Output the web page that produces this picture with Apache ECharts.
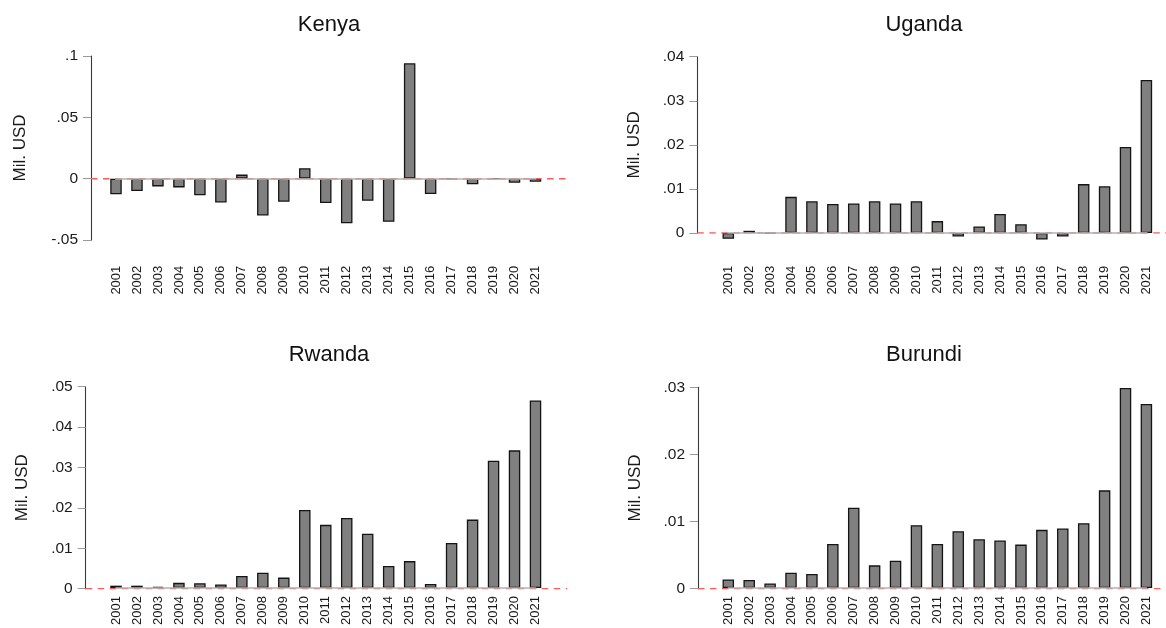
<!DOCTYPE html>
<html>
<head>
<meta charset="utf-8">
<script src="https://cdn.jsdelivr.net/npm/echarts@6/dist/echarts.min.js"></script>
<style>
  html, body { margin: 0; padding: 0; background: #ffffff; }
  #chart { width: 1166px; height: 628px; }
</style>
</head>
<body>
<div id="chart"></div>
<script>
// Net flows per country, million USD
const years = ['2001','2002','2003','2004','2005','2006','2007','2008','2009','2010',
               '2011','2012','2013','2014','2015','2016','2017','2018','2019','2020','2021'];

const kenya = [-0.0128, -0.0101, -0.0063, -0.0071, -0.0136, -0.0194, 0.0033, -0.0300, -0.0188, 0.0085,
               -0.0199, -0.0363, -0.0180, -0.0352, 0.0941, -0.0125, -0.0003, -0.0046, 0.0002, -0.0033, -0.0025];

const uganda = [-0.0013, 0.0005, -0.0001, 0.0082, 0.0072, 0.0066, 0.0067, 0.0072, 0.0067, 0.0072,
                0.0027, -0.0008, 0.0015, 0.0043, 0.0020, -0.0015, -0.0008, 0.0111, 0.0106, 0.0195, 0.0347];

const rwanda = [0.0006, 0.0006, 0.0003, 0.0013, 0.0012, 0.0009, 0.0030, 0.0038, 0.0026, 0.0194,
                0.0157, 0.0174, 0.0135, 0.0055, 0.0067, 0.0010, 0.0112, 0.0170, 0.0316, 0.0342, 0.0466];

const burundi = [0.0013, 0.0012, 0.0007, 0.0023, 0.0021, 0.0066, 0.0120, 0.0034, 0.0041, 0.0094,
                 0.0066, 0.0085, 0.0073, 0.0071, 0.0065, 0.0087, 0.0089, 0.0097, 0.0146, 0.0299, 0.0275];

// value-axis ranges per panel: [min, max, step]
const kenyaAxis   = [-0.05, 0.10, 0.05];
const ugandaAxis  = [0, 0.04, 0.01];
const rwandaAxis  = [0, 0.05, 0.01];
const burundiAxis = [0, 0.03, 0.01];

const yTitle = 'Mil. USD';

// panel layout (pixels)
const panels = [
  { title: 'Kenya',   values: kenya,   axis: kenyaAxis,   axisX: 91,    plotRight: 567,  barLeft: 116,   barRight: 535.5,  top: 56,    bottom: 240,   xOffset: 17.7, nameGap: 62, titleX: 329, titleTop: 14 },
  { title: 'Uganda',  values: uganda,  axis: ugandaAxis,  axisX: 697.3, plotRight: 1166, barLeft: 728.3, barRight: 1146.4, top: 56.7,  bottom: 233,   xOffset: 24.7, nameGap: 54, titleX: 924, titleTop: 14 },
  { title: 'Rwanda',  values: rwanda,  axis: rwandaAxis,  axisX: 85.7,  plotRight: 567,  barLeft: 116,   barRight: 535.5,  top: 386.7, bottom: 588.7, xOffset: 0,    nameGap: 55, titleX: 329, titleTop: 344 },
  { title: 'Burundi', values: burundi, axis: burundiAxis, axisX: 698,   plotRight: 1166, barLeft: 728.3, barRight: 1146.4, top: 387.3, bottom: 588.7, xOffset: 0,    nameGap: 54, titleX: 924, titleTop: 344 }
];

const FONT = '"Liberation Sans", Arial, Helvetica, sans-serif';

function tickText(v) {
  if (Math.abs(v) < 1e-9) return '0';
  const s = String(+v.toFixed(4));
  return s.replace(/^(-?)0\./, '$1.');
}

const grid = [], xAxis = [], yAxis = [], series = [], title = [];

panels.forEach((p, i) => {
  const [ymin, ymax, step] = p.axis;
  const wide = 2 * i, narrow = 2 * i + 1;

  // wide plot region: carries the y axis and the zero reference line
  grid.push({ left: p.axisX, top: p.top, width: p.plotRight - p.axisX, height: p.bottom - p.top });
  // narrow region: categories run from the first bar centre to the last
  grid.push({ left: p.barLeft, top: p.top, width: p.barRight - p.barLeft, height: p.bottom - p.top });

  xAxis.push({ type: 'value', gridIndex: wide, min: 0, max: 1, show: false });
  xAxis.push({
    type: 'category', gridIndex: narrow, data: years, boundaryGap: false,
    offset: p.xOffset, z: 10,
    axisLine: { show: true, lineStyle: { color: '#b3b3b3', width: 1.7 } },
    axisTick: { show: false },
    splitLine: { show: false },
    axisLabel: { interval: 0, rotate: 90, margin: 8, fontSize: 13, color: '#1a1a1a', fontFamily: FONT }
  });

  yAxis.push({
    type: 'value', gridIndex: wide, min: ymin, max: ymax, interval: step,
    name: yTitle, nameLocation: 'middle', nameGap: p.nameGap, nameRotate: 90,
    nameTextStyle: { fontSize: 17, color: '#1a1a1a', fontFamily: FONT },
    axisLine: { show: true, lineStyle: { color: '#3a3a3a', width: 1.1 } },
    axisTick: { show: true, length: 8, lineStyle: { color: '#9a9a9a', width: 1 } },
    splitLine: { show: false },
    axisLabel: { margin: 13, fontSize: 15.5, color: '#1a1a1a', fontFamily: FONT, formatter: tickText }
  });
  yAxis.push({ type: 'value', gridIndex: narrow, min: ymin, max: ymax, show: false });

  series.push({
    type: 'bar', xAxisIndex: narrow, yAxisIndex: narrow, data: p.values,
    barWidth: 11.5, clip: false, z: 2, silent: true,
    itemStyle: { color: '#808080', borderColor: '#141414', borderWidth: 1.3 }
  });
  series.push({
    type: 'line', xAxisIndex: wide, yAxisIndex: wide, data: [[0, 0], [1, 0]],
    symbol: 'none', z: 3, silent: true,
    lineStyle: { color: '#ff5a5a', width: 1.5, type: [6.5, 5.5] }
  });

  title.push({
    text: p.title, left: p.titleX, top: p.titleTop, textAlign: 'center', padding: 0,
    textStyle: { fontSize: 22, fontWeight: 'normal', color: '#111111', fontFamily: FONT }
  });
});

const chart = echarts.init(document.getElementById('chart'), null, { renderer: 'canvas' });
chart.setOption({
  animation: false,
  backgroundColor: '#ffffff',
  title, grid, xAxis, yAxis, series
});
</script>
</body>
</html>
